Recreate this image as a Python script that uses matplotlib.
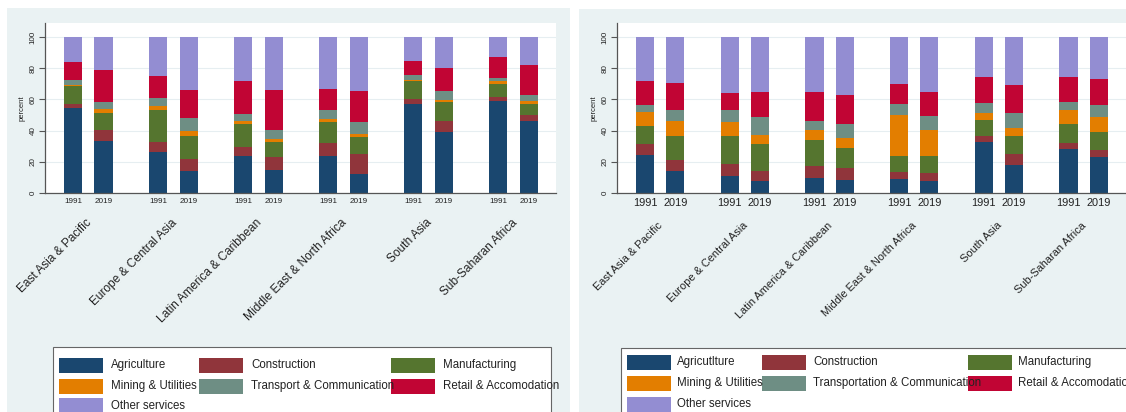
import matplotlib
matplotlib.use("Agg")
import matplotlib.pyplot as plt
from matplotlib.patches import Rectangle
import numpy as np

plt.rcParams['font.family'] = ['Liberation Sans', 'DejaVu Sans']

# regions and years
regions = ['East Asia & Pacific', 'Europe & Central Asia', 'Latin America & Caribbean',
           'Middle East & North Africa', 'South Asia', 'Sub-Saharan Africa']
years = ['1991', '2019']

# left panel shares (region x year, in order 1991, 2019)
agri_l = [54.5, 33.1, 26.1, 14.3, 23.9, 15.0, 23.9, 12.4, 56.8, 38.9, 58.8, 46.4]
constr_l = [2.8, 7.3, 6.8, 7.7, 5.8, 7.9, 8.4, 12.4, 3.5, 7.0, 2.7, 3.8]
manuf_l = [11.1, 10.7, 20.1, 14.8, 14.7, 9.6, 13.4, 10.9, 11.3, 12.2, 8.6, 6.9]
mining_l = [1.0, 2.7, 2.6, 3.2, 1.5, 2.1, 1.5, 2.1, 1.0, 1.7, 1.5, 2.1]
transp_l = [2.8, 4.7, 5.5, 7.9, 4.5, 5.8, 5.8, 7.5, 3.3, 5.8, 2.1, 3.6]
retail_l = [12.0, 20.1, 14.1, 18.3, 21.4, 25.4, 13.7, 20.3, 8.7, 14.3, 13.3, 19.0]
other_l = [15.8, 21.4, 24.8, 33.8, 28.2, 34.2, 33.3, 34.4, 15.4, 20.1, 13.0, 18.2]

# right panel shares
agri_r = [24.6, 14.3, 11.1, 7.5, 9.6, 8.1, 9.0, 7.5, 32.5, 17.7, 28.2, 22.9]
constr_r = [6.6, 7.1, 7.5, 6.8, 7.5, 7.7, 4.7, 5.3, 3.8, 7.5, 3.9, 4.9]
manuf_r = [12.0, 15.4, 18.2, 16.9, 17.1, 13.0, 10.2, 11.1, 10.7, 11.1, 12.3, 11.1]
mining_r = [8.7, 9.1, 8.5, 6.2, 6.0, 6.7, 25.9, 16.7, 4.3, 5.2, 9.0, 9.8]
transp_r = [4.5, 7.5, 8.1, 11.1, 5.7, 8.9, 7.3, 9.0, 6.4, 9.8, 5.1, 7.9]
retail_r = [15.6, 17.1, 10.9, 16.5, 19.1, 18.2, 12.6, 15.4, 16.7, 17.7, 15.9, 16.3]
other_r = [28.0, 29.5, 35.7, 35.0, 35.0, 37.4, 30.3, 35.0, 25.6, 31.0, 25.6, 27.1]

labels_l = ['Agriculture', 'Construction', 'Manufacturing', 'Mining & Utilities',
            'Transport & Communication', 'Retail & Accomodation', 'Other services']
labels_r = ['Agricutlture', 'Construction', 'Manufacturing', 'Mining & Utilities',
            'Transportation & Communication', 'Retail & Accomodation', 'Other services']

colors = ['#1a476f', '#90353b', '#55752f', '#e37e00', '#6e8e84', '#c10534', '#938dd2']

W, H = 1126, 412
fig = plt.figure(figsize=(W / 100, H / 100), dpi=100)

def fx(px):
    return px / W

def fy(py):
    return 1 - py / H

# panel backgrounds
fig.patches.append(Rectangle((fx(7), 0), fx(570 - 7), fy(8), transform=fig.transFigure,
                             facecolor='#eaf2f3', edgecolor='none', zorder=-2))
fig.patches.append(Rectangle((fx(579), 0), fx(W - 579), fy(9), transform=fig.transFigure,
                             facecolor='#eaf2f3', edgecolor='none', zorder=-2))

gstep = 2.8
xpos = np.array([g * gstep + j for g in range(len(regions)) for j in range(2)])
gcent = np.array([g * gstep + 0.5 for g in range(len(regions))])


def panel(left_px, right_px, data, yr_size, reg_y, reg_size, reg_dx):
    ax = fig.add_axes([fx(left_px), fy(193), fx(right_px - left_px), fy(23) - fy(193)])
    ax.set_zorder(1)
    bottom = np.zeros(len(xpos))
    for vals, c in zip(data, colors):
        ax.bar(xpos, vals, width=0.6, bottom=bottom, color=c, edgecolor='none', zorder=2)
        bottom += np.array(vals)
    ax.set_ylim(0, 109)
    ax.set_xlim(-0.93, 5 * gstep + 1 + 0.9)
    ax.set_yticks([0, 20, 40, 60, 80, 100])
    ax.set_yticklabels(['0', '20', '40', '60', '80', '100'], rotation=90, va='center',
                       fontsize=5.8, color='#222222')
    ax.yaxis.grid(True, color='#e6eef1', linewidth=0.8, zorder=0)
    ax.set_axisbelow(True)
    ax.set_ylabel('percent', fontsize=5.5, color='#222222', labelpad=3)
    ax.set_xticks(xpos)
    ax.set_xticklabels(years * len(regions), fontsize=yr_size, color='#222222')
    ax.tick_params(axis='x', length=0, pad=3.5)
    ax.tick_params(axis='y', length=4, width=0.8, color='#555555', pad=2)
    for s in ['top', 'right']:
        ax.spines[s].set_visible(False)
    for s in ['left', 'bottom']:
        ax.spines[s].set_color('#555555')
        ax.spines[s].set_linewidth(0.9)
    for gx, name in zip(gcent, regions):
        ax.text(gx + reg_dx, reg_y, name, rotation=45, ha='right', va='top', fontsize=reg_size,
                color='#222222', transform=ax.get_xaxis_transform())
    return ax


panel(45, 556, [agri_l, constr_l, manuf_l, mining_l, transp_l, retail_l, other_l],
      5.9, -0.14, 8.6, 0.2)
panel(617, 1126, [agri_r, constr_r, manuf_r, mining_r, transp_r, retail_r, other_r],
      7.9, -0.16, 7.9, 0.15)


def legend(box_x0, box_x1, top, cols_patch, cols_text, rows, labels):
    fig.patches.append(Rectangle((fx(box_x0), fy(425)), fx(box_x1 - box_x0), fy(top) - fy(425),
                                 transform=fig.transFigure, facecolor='white',
                                 edgecolor='#666666', linewidth=0.8, zorder=1))
    for i, (lab, c) in enumerate(zip(labels, colors)):
        r, k = divmod(i, 3)
        fig.patches.append(Rectangle((fx(cols_patch[k]), fy(rows[r] + 7.5)), fx(44), fy(rows[r] - 7.5) - fy(rows[r] + 7.5),
                                     transform=fig.transFigure, facecolor=c, edgecolor='none', zorder=2))
        fig.text(fx(cols_text[k]), fy(rows[r]), lab, fontsize=8.3, color='#222222',
                 ha='left', va='center', zorder=3)


legend(53, 551, 347, [59, 199, 391], [111, 251, 443], [365, 386, 406], labels_l)
legend(621, 1140, 347.5, [627, 762, 968], [677, 813, 1018], [362, 383, 404], labels_r)

fig.savefig('out.png', dpi=100)
